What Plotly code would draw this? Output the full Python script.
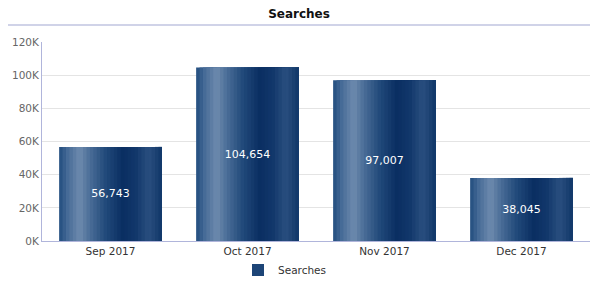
import plotly.graph_objects as go

categories = ["Sep 2017", "Oct 2017", "Nov 2017", "Dec 2017"]
searches = [56743, 104654, 97007, 38045]
y_tickvals = [0, 20000, 40000, 60000, 80000, 100000, 120000]
y_ticktext = ["0K", "20K", "40K", "60K", "80K", "100K", "120K"]

# horizontal gradient stops for the bar fill (position across bar, color)
grad_stops = [
    (0.00, (0x22, 0x4d, 0x7e)),
    (0.08, (0x45, 0x6a, 0x96)),
    (0.20, (0x6e, 0x8b, 0xae)),
    (0.30, (0x4a, 0x6d, 0x97)),
    (0.45, (0x22, 0x4a, 0x7b)),
    (0.62, (0x0a, 0x2e, 0x62)),
    (0.75, (0x12, 0x38, 0x6b)),
    (0.87, (0x2a, 0x4f, 0x7f)),
    (1.00, (0x10, 0x36, 0x68)),
]


def grad_color(t):
    for (p0, c0), (p1, c1) in zip(grad_stops[:-1], grad_stops[1:]):
        if p0 <= t <= p1:
            f = (t - p0) / (p1 - p0) if p1 > p0 else 0
            c = [round(a + (b - a) * f) for a, b in zip(c0, c1)]
            return "rgb(%d,%d,%d)" % tuple(c)
    return "rgb(%d,%d,%d)" % grad_stops[-1][1]


font_family = "DejaVu Sans, Verdana, sans-serif"
bar_width = 0.75
n_slices = 30
slice_w = bar_width / n_slices

fig = go.Figure()
for i in range(n_slices):
    t = (i + 0.5) / n_slices
    fig.add_trace(go.Bar(
        x=categories, y=searches,
        width=bar_width - i * slice_w, offset=-bar_width / 2 + i * slice_w,
        marker=dict(color=grad_color(t), line=dict(width=0)),
        name="Searches", showlegend=False, hoverinfo="skip",
    ))

# text carrier
fig.add_trace(go.Bar(
    x=categories, y=searches, width=bar_width, offset=-bar_width / 2,
    marker=dict(color="rgba(0,0,0,0)", line=dict(width=0)),
    texttemplate="%{y:,}", textposition="inside", insidetextanchor="middle",
    textfont=dict(color="white", size=11, family=font_family),
    name="Searches", showlegend=False,
))
# legend carrier
fig.add_trace(go.Bar(
    x=[None], y=[None], name="Searches",
    marker=dict(color="#1d4577", line=dict(width=0)), showlegend=True,
))

fig.update_layout(
    width=598, height=288,
    barmode="overlay",
    paper_bgcolor="white", plot_bgcolor="white",
    margin=dict(l=42, r=8, t=42, b=47, autoexpand=False),
    font=dict(family=font_family, size=10, color="#555"),
    title=dict(text="<b>Searches</b>", x=0.5, xref="container", xanchor="center",
               y=1 - 14 / 288, yref="container", yanchor="middle",
               font=dict(size=12, color="#111", family=font_family)),
    legend=dict(orientation="h", x=0.5 - 14 / 598, xref="container", xanchor="center",
                y=1 - 270 / 288, yref="container", yanchor="middle",
                font=dict(size=10.5, color="#333"), itemwidth=30),
    shapes=[dict(type="line", xref="paper", yref="paper",
                 x0=-34 / 548, x1=1.0, y0=1 + 17 / 199, y1=1 + 17 / 199,
                 line=dict(color="#d0d3e8", width=2))],
    showlegend=True,
)
fig.update_xaxes(showline=True, linecolor="#b0b5db", linewidth=1, ticks="",
                 tickfont=dict(size=10.5, color="#333"), showgrid=False)
fig.update_yaxes(range=[0, 120000], tickvals=y_tickvals, ticktext=y_ticktext,
                 showline=True, linecolor="#b0b5db", linewidth=1,
                 gridcolor="#e4e4e4", gridwidth=1, zeroline=False,
                 tickfont=dict(size=10.5, color="#666"), ticks="")

fig.write_html("out.html")
